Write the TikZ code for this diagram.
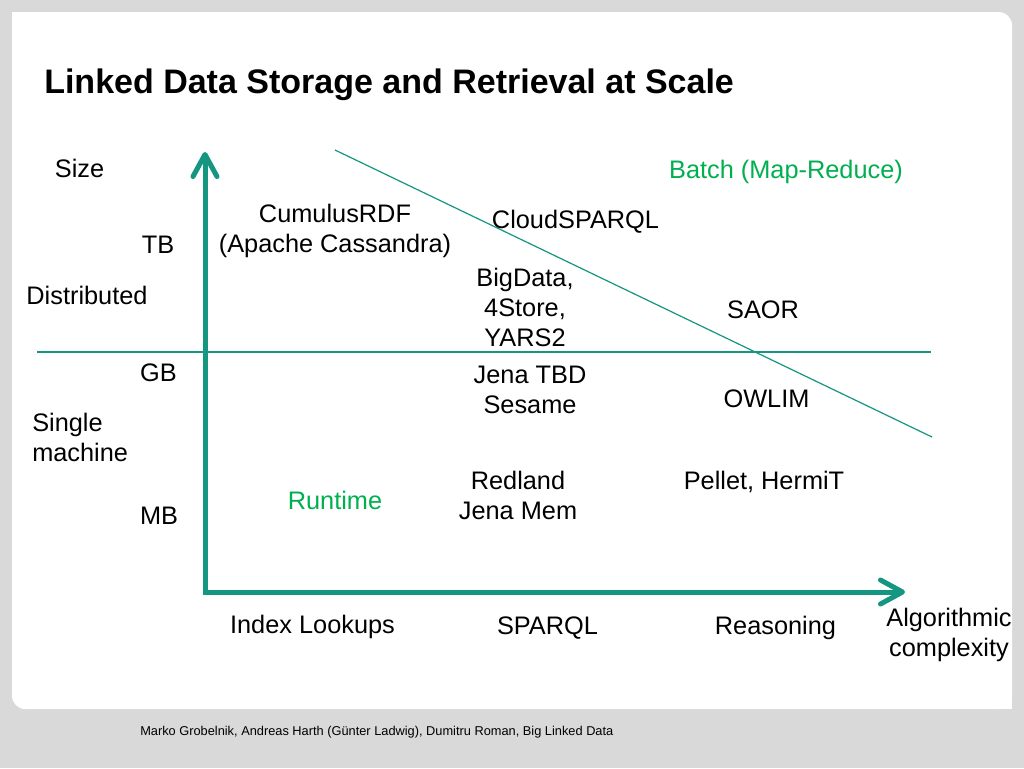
\documentclass[tikz,border=0pt]{standalone}
\usepackage{fontspec}
\setmainfont{Liberation Sans}
\usetikzlibrary{arrows.meta}
\definecolor{teal}{RGB}{20,150,128}
\definecolor{grn}{RGB}{0,176,80}
\definecolor{bggray}{RGB}{217,217,217}
\begin{document}
\begin{tikzpicture}[x=0.75pt,y=-0.75pt,
  lbl/.style={inner sep=0pt,anchor=base,font=\fontsize{19pt}{22.5pt}\selectfont,align=center},
  lblw/.style={lbl,anchor=base west,align=left},
  grnlbl/.style={lbl,text=grn},
  axis/.style={draw=teal,line width=3.75pt,line join=miter},
  thin/.style={draw=teal,line width=0.9pt}]
\useasboundingbox (0,0) rectangle (1024,768);
\fill[bggray] (0,0) rectangle (1024,768);
\fill[white,rounded corners=10pt] (12,12) -- (1012,12) -- (1012,709) -- (12,709) -- cycle;
\fill[white] (12,12) rectangle (40,40);
\fill[white] (984,681) rectangle (1012,709);
% title
\node[inner sep=0pt,anchor=base west,font=\fontsize{25.5pt}{30pt}\selectfont\bfseries] (title) at (44,93) {Linked Data Storage and Retrieval at Scale};
% lines
\coordinate (hl) at (37,352);
\coordinate (hr) at (931,352);
\coordinate (dl) at (335,150);
\coordinate (dr) at (932,437);
\draw[thin] (hl) -- (hr);
\draw[thin] (dl) -- (dr);
% axes
\coordinate (origin) at (205,592);
\coordinate (ytip) at (205,152);
\coordinate (xtip) at (905,592);
\draw[axis,{Straight Barb[length=16.5pt,width=18pt,round]}-{Straight Barb[length=16.5pt,width=18pt,round]}] (ytip) -- (origin) -- (xtip);
% labels (multi-line nodes: base = baseline of last line)
\node[lbl] (size) at (79.5,177) {Size};
\node[grnlbl] (batch) at (786,178) {Batch (Map-Reduce)};
\node[lbl] (cumulus) at (335,252) {CumulusRDF\\(Apache Cassandra)};
\node[lbl] (cloud) at (575.5,228) {CloudSPARQL};
\node[lbl] (tb) at (158,253) {TB};
\node[lbl] (bigdata) at (525,346) {BigData,\\4Store,\\YARS2};
\node[lbl] (distr) at (87,304) {Distributed};
\node[lbl] (saor) at (763,318) {SAOR};
\node[lbl] (gb) at (158.5,381) {GB};
\node[lbl] (jena) at (530,413) {Jena TBD\\Sesame};
\node[lbl] (owlim) at (766.5,407) {OWLIM};
\node[lblw] (single) at (32,461) {Single\\machine};
\node[lbl] (redland) at (518,519) {Redland\\Jena Mem};
\node[lbl] (pellet) at (764,489) {Pellet, HermiT};
\node[grnlbl] (runtime) at (335,509) {Runtime};
\node[lbl] (mb) at (159,524) {MB};
\node[lbl] (index) at (312.5,633) {Index Lookups};
\node[lbl] (sparql) at (547.5,634) {SPARQL};
\node[lbl] (reason) at (775.5,634) {Reasoning};
\node[lbl] (algo) at (949,656) {Algorithmic\\complexity};
% footer
\node[inner sep=0pt,anchor=base west,font=\fontsize{9.6pt}{11.5pt}\selectfont] (footer) at (140,735) {Marko Grobelnik, Andreas Harth (Günter Ladwig), Dumitru Roman, Big Linked Data};
\end{tikzpicture}
\end{document}
